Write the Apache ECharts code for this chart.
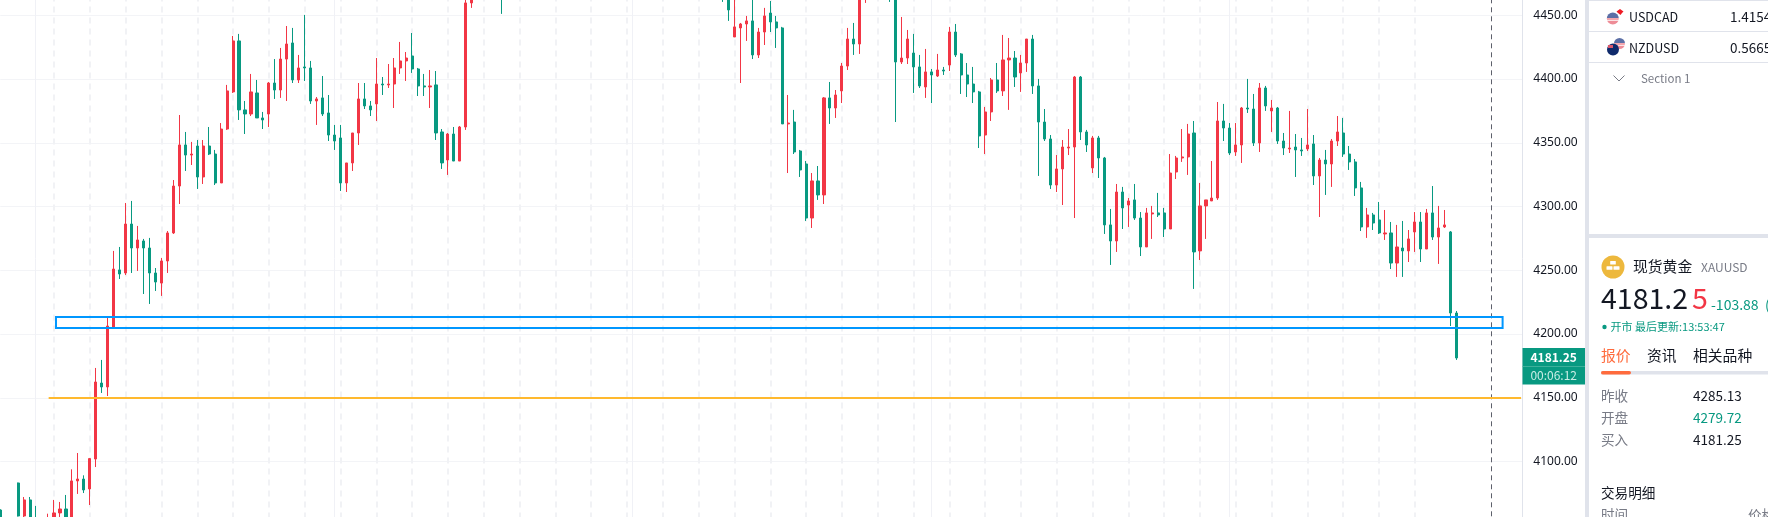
<!DOCTYPE html>
<html>

<head>
  <meta charset="utf-8" />
  <script src="https://cdn.jsdelivr.net/npm/echarts@6/dist/echarts.min.js"></script>
  <style>
    html, body { margin: 0; padding: 0; background: #fff; overflow: hidden; }
  </style>
</head>

<body>
  <div id="main" style="width: 1768px;height:517px;"></div>
  <script type="text/javascript">
    var n = null
    // XAUUSD candles, ten per row. null = candle is out of the visible window
    var opens = [
      4062, n, n, 4083.2, 4057.3, 4069.9, 4052, n, 4045, 4052,
      4059.7, 4062.8, 4052, 4084.8, 4086.3, 4078.5, 4102, 4161.6, 4158.5, 4205,
      4250.3, 4247.9, 4286.3, 4267.5, 4273, 4267.5, 4247.9, 4240, 4257.3, 4279.3,
      4316.1, 4348.3, 4340.4, 4347.5, 4323.2, 4347.5, 4341.2, 4318.5, 4360.8, 4389.9,
      4429.9, 4375.8, 4372.6, 4389.1, 4369.5, 4372.6, 4396.9, 4391.4, 4415.7, 4428.3,
      4399.3, 4409.5, 4408.7, 4382.8, 4385.2, 4373.4, 4356.1, 4353.8, 4318.5, 4334.2,
      4357.7, 4384.4, 4378.9, 4380.5, 4396.1, 4395.4, 4396.1, 4408.7, 4414.2, 4418.1,
      4407.9, 4394.6, 4393.8, 4395.4, 4358.5, 4336.5, 4356.9, 4335.7, 4362.4, 4459.7,
      n, n, n, n, 4490, n, n, n, n, n,
      n, n, n, n, n, n, n, n, n, n,
      n, n, n, n, n, n, n, n, n, n,
      n, n, n, n, n, n, n, n, n, n,
      n, 4480, 4470, 4433, 4440.1, 4443.2, 4445.6, 4418.9, 4436.9, 4451.8,
      4444.8, 4440.1, 4364.8, 4366.3, 4343.6, 4333.4, 4291, 4320.1, 4309.1, 4385.2,
      4377.3, 4390.7, 4410.2, 4431.4, 4427.5, 4466, n, n, n, 4480,
      4468, 4413.4, 4416.5, 4420.4, 4409.5, 4393.8, 4405.6, 4402.4, 4407.1, 4411,
      4436.9, 4419.7, 4403.2, 4396.1, 4389.9, 4356.1, 4374.2, 4399.3, 4390.7, 4415,
      4416.5, 4404.8, 4412.6, 4431.4, 4394.6, 4366.3, 4353, 4316.9, 4329.5, 4345.9,
      4346.7, 4401.6, 4358.5, 4330.3, 4353.8, 4338.1, 4285.6, 4273, 4311.4, 4301.2,
      4305.2, 4291, 4268.3, 4294.2, 4295, 4295, 4282.4, 4327.1, 4338.1, 4338.9,
      4357.7, 4265.2, 4300.5, 4304.4, 4306.7, 4367.1, 4361.6, 4342.8, 4348.3, 4377.3,
      4376.5, 4349.9, 4393, 4375, 4377.3, 4351.4, 4345.2, 4346.7, 4344.4, 4345.2,
      4349.1, 4324, 4336.5, 4333.4, 4351.4, 4357.7, 4341.2, 4335, 4314.6, 4284,
      4293.4, 4289.5, 4278.5, 4279.3, 4255.7, 4267.5, 4265.2, 4280.1, 4287.9, 4266.7,
      4295, 4276.1, 4284, 4280.1, 4216.5
    ]
    var closes = [
      4048, n, n, 4057.3, 4069.9, 4052, 4045, n, 4055, 4059.7,
      4062.8, 4052, 4084.8, 4086.3, 4077.7, 4102.3, 4162.4, 4158.5, 4206.3, 4251,
      4247.1, 4286.3, 4267.5, 4273.8, 4267.5, 4247.9, 4240.8, 4257.3, 4279.3, 4316.1,
      4348.3, 4340.4, 4341.2, 4323.2, 4347.5, 4341.2, 4318.5, 4360.8, 4390.7, 4429.9,
      4375.8, 4372.6, 4389.9, 4369.5, 4367.9, 4396.9, 4391.4, 4415.7, 4427.5, 4399.3,
      4408.7, 4408.7, 4382.8, 4384.4, 4372.6, 4356.1, 4351.4, 4318.5, 4334.2, 4357.7,
      4384.4, 4378.9, 4375.8, 4396.1, 4395.4, 4396.1, 4408.7, 4414.2, 4416.5, 4407.9,
      4394.6, 4393.8, 4394.6, 4357.7, 4334.2, 4356.9, 4335.7, 4362.4, 4459.7, 4464,
      n, n, n, n, 4470, n, n, n, n, n,
      n, n, n, n, n, n, n, n, n, n,
      n, n, n, n, n, n, n, n, n, n,
      n, n, n, n, n, n, n, n, n, n,
      n, 4470, 4454.2, 4440.9, 4443.2, 4445.6, 4418.9, 4436.9, 4449.5, 4444.8,
      4440.1, 4364.8, 4365.5, 4342.8, 4328.7, 4291, 4320.1, 4309.1, 4385.2, 4377.3,
      4387.5, 4410.2, 4431.4, 4427.5, 4466, 4472, n, n, n, 4470,
      4413.4, 4416.5, 4431.4, 4409.5, 4394.6, 4405.6, 4403.2, 4407.1, 4406.3, 4436.9,
      4418.9, 4403.2, 4396.1, 4389.9, 4355.4, 4374.2, 4399.3, 4390.7, 4415, 4416.5,
      4401.6, 4412.6, 4431.4, 4394.6, 4366.3, 4353, 4316.9, 4329.5, 4346.7, 4346.7,
      4401.6, 4358.5, 4348.3, 4353.8, 4338.1, 4285.6, 4273, 4311.4, 4298.9, 4304.4,
      4291, 4268.3, 4295, 4295, 4293.4, 4282.4, 4326.3, 4338.1, 4338.9, 4356.9,
      4264.4, 4300.5, 4305.2, 4306.7, 4367.1, 4361.6, 4342, 4348.3, 4377.3, 4376.5,
      4349.9, 4393, 4378.9, 4377.3, 4351.4, 4345.9, 4345.9, 4344.4, 4343.6, 4348.3,
      4324, 4336.5, 4333.4, 4351.4, 4358.5, 4341.2, 4335, 4314.6, 4284, 4293.4,
      4287.1, 4279.3, 4279.3, 4255.7, 4268.3, 4265.2, 4274.6, 4287.9, 4266.7, 4295,
      4276.1, 4283.2, 4285.6, 4216.5, 4181.25
    ]
    var lows = [
      4045, n, n, 4056.9, 4056.5, 4050, 4043, n, 4042, 4050,
      4055, 4048, 4049, 4074.6, 4075.3, 4065.9, 4095.7, 4153.8, 4151.4, 4204.7,
      4243.2, 4246.3, 4247.9, 4249.5, 4231.4, 4223.6, 4233.8, 4229.9, 4247.9, 4278.5,
      4302, 4327.9, 4332.6, 4313.8, 4317.7, 4340.4, 4316.9, 4318.5, 4360.1, 4389.1,
      4367.9, 4356.9, 4371, 4369.5, 4360.8, 4362.4, 4384.4, 4385.2, 4382.8, 4396.9,
      4396.9, 4398.5, 4380.5, 4364, 4371, 4351.4, 4344.4, 4312.2, 4311.4, 4327.9,
      4348.3, 4376.5, 4371, 4367.1, 4387.5, 4393, 4377.3, 4404, 4398.5, 4404.8,
      4386.7, 4386.7, 4377.3, 4352.2, 4329.5, 4324.8, 4335.7, 4335.7, 4360.1, 4455.8,
      n, n, n, n, 4451.1, n, n, n, n, n,
      n, n, n, n, n, n, n, n, n, n,
      n, n, n, n, n, n, n, n, n, n,
      n, n, n, n, n, n, n, n, n, n,
      n, 4460.5, 4445.6, 4433, 4396.9, 4429.9, 4415.7, 4416.5, 4426.7, 4436.9,
      4424.4, 4364.8, 4326.3, 4341.2, 4323.2, 4288.7, 4283.2, 4305.2, 4302, 4364.8,
      4369.5, 4381.2, 4407.1, 4418.9, 4419.7, 4459.7, n, n, n, 4460.5,
      4366.3, 4411.8, 4411.8, 4389.1, 4393, 4385.2, 4381.2, 4401.6, 4403.2, 4406.3,
      4417.3, 4388.3, 4385.9, 4381.2, 4345.9, 4341.2, 4367.1, 4389.1, 4386.7, 4375.8,
      4393.8, 4389.9, 4405.6, 4388.3, 4324, 4351.4, 4313.8, 4311.4, 4301.2, 4340.4,
      4291, 4352.2, 4342.8, 4326.3, 4322.4, 4278.5, 4254.2, 4264.4, 4282.4, 4284,
      4289.5, 4261.2, 4268.3, 4274.6, 4291.8, 4276.1, 4282.4, 4321.6, 4335, 4324.8,
      4235.4, 4258.1, 4274.6, 4304.4, 4305.2, 4351.4, 4340.4, 4339.7, 4334.2, 4373.4,
      4347.5, 4342.8, 4375, 4358.5, 4349.1, 4340.4, 4342, 4323.2, 4339.7, 4343.6,
      4316.9, 4291.8, 4309.1, 4315.4, 4347.5, 4338.9, 4328.7, 4308.3, 4280.8, 4275.4,
      4281.6, 4278.5, 4273.8, 4251, 4244.8, 4244.8, 4256.5, 4264.4, 4256.5, 4266.7,
      4273.8, 4255, 4283.2, 4206.3, 4179.7
    ]
    var highs = [
      4062.5, n, n, 4083.5, 4072.2, 4072.2, 4065.2, n, 4059.1, 4069.9,
      4068.3, 4073.8, 4093.9, 4106.7, 4089.2, 4102.6, 4173.4, 4179.7, 4212.6, 4265.2,
      4268.3, 4302.8, 4304.4, 4284.8, 4274.6, 4275.4, 4251.8, 4259.7, 4280.8, 4320.8,
      4371.8, 4358.5, 4350.7, 4352.2, 4352.2, 4362.4, 4344.4, 4365.5, 4395.4, 4433.8,
      4435.4, 4382.8, 4404, 4399.3, 4374.2, 4397.7, 4415.7, 4424.4, 4441.6, 4440.1,
      4418.9, 4450.3, 4414.2, 4385.9, 4402.4, 4387.5, 4364, 4364, 4334.2, 4357.7,
      4396.9, 4396.9, 4382.8, 4416.5, 4401.6, 4411.8, 4416.5, 4429.1, 4421.2, 4436.1,
      4408.7, 4404, 4407.1, 4406.3, 4360.8, 4357.7, 4362.4, 4363.2, 4464, 4468,
      n, n, n, n, 4495, n, n, n, n, n,
      n, n, n, n, n, n, n, n, n, n,
      n, n, n, n, n, n, n, n, n, n,
      n, n, n, n, n, n, n, n, n, n,
      n, 4485, 4478, 4475, 4444, 4449.5, 4464, 4440.1, 4455.8, 4461.2,
      4449.5, 4440.9, 4387.5, 4375.8, 4344.4, 4335.7, 4326.3, 4331.8, 4385.9, 4397.7,
      4391.4, 4412.6, 4440.1, 4444, 4470, 4476, n, n, n, 4485,
      4472, 4448.7, 4438.5, 4435.4, 4418.9, 4423.6, 4407.9, 4419.7, 4409.5, 4440.9,
      4443.2, 4420.4, 4412.6, 4409.5, 4390.7, 4378.1, 4400.8, 4412.6, 4434.6, 4432.2,
      4422, 4418.9, 4431.4, 4434.6, 4400.1, 4376.5, 4356.1, 4340.4, 4352.2, 4360.8,
      4402.4, 4402.4, 4360.1, 4355.4, 4355.4, 4338.9, 4298.1, 4317.7, 4315.4, 4306.7,
      4317.7, 4295.7, 4298.9, 4300.5, 4310.7, 4298.9, 4341.2, 4339.7, 4360.8, 4364.8,
      4367.1, 4318.5, 4305.2, 4335.7, 4382, 4380.5, 4365.5, 4365.5, 4378.1, 4400.1,
      4388.3, 4396.9, 4394.6, 4383.6, 4378.1, 4357.7, 4375, 4356.9, 4353.8, 4376.5,
      4356.1, 4338.1, 4344.4, 4353, 4371, 4369.5, 4347.5, 4337.3, 4319.3, 4298.9,
      4295, 4303.6, 4297.3, 4287.9, 4285.6, 4288.7, 4281.6, 4295.7, 4295.7, 4298.1,
      4316.1, 4300.5, 4297.3, 4280.8, 4218.1
    ]
    var lastPrice = 4181.25
    var supportLevel = 4150.3
    var zoneTop = 4213.4
    var zoneBottom = 4204.8
    // bar positions on the candle scale
    var slotCount = 256
    var zoneFrom = 9.33, zoneTo = 251.7
    var levelFrom = 8.1, levelTo = 254.8
    var nowBar = 249.8
    var solidGridBars = [5.93, 55.93, 105.9, 155.9, 205.9]
    var dashStart = 3, dashStep = 6, dashEnd = 243

    var categories = []
    for (var i = 0; i < slotCount; i++) categories.push(String(i))
    var candleData = opens.map(function (o, i) {
      if (o === null) return ['-', '-', '-', '-']
      return [o, closes[i], lows[i], highs[i]]
    })

    var UP = '#F23645', DOWN = '#089981', PANEL_LINE = '#E0E3EB'
    var FONT = '"Noto Sans CJK SC", "Noto Sans", sans-serif'

    function txt(x, y, s, size, color, extra) {
      var st = { x: x, y: y, text: s, fontSize: size, fontFamily: FONT, fill: color, verticalAlign: 'middle' }
      if (extra) for (var k in extra) st[k] = extra[k]
      return { type: 'text', z: 30, silent: true, style: st }
    }
    function box(x, y, w, h, color, r) {
      return { type: 'rect', z: 20, silent: true, shape: { x: x, y: y, width: w, height: h, r: r || 0 }, style: { fill: color } }
    }
    function dot(x, y, r, color) {
      return { type: 'circle', z: 25, silent: true, shape: { cx: x, cy: y, r: r }, style: { fill: color } }
    }
    function usFlag(x, y, r) {
      return {
        type: 'circle', z: 25, silent: true, shape: { cx: x, cy: y, r: r },
        style: {
          fill: new echarts.graphic.LinearGradient(0, 0, 0, 1, [
            { offset: 0, color: '#5C6FA6' }, { offset: 0.45, color: '#5C6FA6' },
            { offset: 0.45, color: '#F3A6AE' }, { offset: 0.6, color: '#F3A6AE' },
            { offset: 0.6, color: '#FBE3E5' }, { offset: 0.72, color: '#FBE3E5' },
            { offset: 0.72, color: '#EE8C97' }, { offset: 1, color: '#EE8C97' }
          ])
        }
      }
    }

    var panel = [
      // price scale tag
      box(1522.5, 348, 62.5, 36.5, DOWN),
      box(1522.5, 366, 62.5, 0.8, '#4FB8A4'),
      txt(1553.7, 357, lastPrice.toFixed(2), 12, '#fff', { align: 'center', fontWeight: 'bold' }),
      txt(1553.7, 375, '00:06:12', 12, '#C9EDE5', { align: 'center' }),
      // right column
      box(1585, 0, 183, 517, '#fff'),
      box(1585, 0, 4, 517, PANEL_LINE),
      box(1589, 0, 179, 1, PANEL_LINE),
      box(1589, 31, 179, 1, PANEL_LINE),
      box(1589, 62, 179, 1, PANEL_LINE),
      box(1589, 234, 179, 4, PANEL_LINE),
      dot(1620, 12.5, 5, '#fff'),
      { type: 'polygon', z: 26, silent: true, shape: { points: [[1620, 9], [1623.5, 11.5], [1622, 13], [1620.5, 15], [1618, 13], [1616.5, 11.5]] }, style: { fill: '#EE1C25' } },
      usFlag(1612.8, 18.5, 6),
      txt(1629, 17.5, 'USDCAD', 12.5, '#131722'),
      txt(1730, 16.5, '1.4154', 13.5, '#131722'),
      usFlag(1619.5, 43.5, 5.5),
      dot(1613, 49.5, 6, '#0F2A6B'),
      { type: 'rect', z: 26, silent: true, shape: { x: 1608, y: 45, width: 5, height: 3 }, style: { fill: '#D9576B' } },
      txt(1629, 48.5, 'NZDUSD', 12.5, '#131722'),
      txt(1730, 47.5, '0.5665', 13.5, '#131722'),
      { type: 'polyline', z: 25, silent: true, shape: { points: [[1613.5, 75.5], [1619, 81], [1624.5, 75.5]] }, style: { stroke: '#787B86', lineWidth: 1, fill: null } },
      txt(1641, 79, 'Section 1', 11.5, '#787B86'),
      // quote block
      dot(1613, 267, 11.5, '#EDB83D'),
      { type: 'rect', z: 26, silent: true, shape: { x: 1610.2, y: 261, width: 5.6, height: 3.6, r: 0.5 }, style: { fill: '#fff' } },
      { type: 'rect', z: 26, silent: true, shape: { x: 1606.5, y: 266.2, width: 6, height: 3.6, r: 0.5 }, style: { fill: '#fff' } },
      { type: 'rect', z: 26, silent: true, shape: { x: 1613.5, y: 266.2, width: 6, height: 3.6, r: 0.5 }, style: { fill: '#fff' } },
      txt(1633, 266.5, '现货黄金', 14.8, '#131722'),
      txt(1701, 267.5, 'XAUUSD', 12, '#787B86'),
      txt(1601, 298.5, '4181.2', 28.5, '#131722'),
      txt(1692, 298.5, '5', 28.5, UP),
      txt(1711, 304.5, '-103.88', 14, DOWN),
      txt(1765, 304.5, '(', 14, DOWN),
      dot(1604.5, 327, 2.2, DOWN),
      txt(1610.5, 327, '开市 最后更新:13:53:47', 11, DOWN),
      txt(1601, 355.5, '报价', 14.8, '#FF6B3D'),
      txt(1647, 355.5, '资讯', 14.8, '#131722'),
      txt(1693, 355.5, '相关品种', 14.8, '#131722'),
      box(1601, 371, 167, 3.6, PANEL_LINE),
      box(1601, 371, 30, 3.6, '#FF6B3D', 1.8),
      txt(1601, 396, '昨收', 13.6, '#787B86'),
      txt(1693, 396, '4285.13', 13.5, '#131722'),
      txt(1601, 418, '开盘', 13.6, '#787B86'),
      txt(1693, 418, '4279.72', 13.5, DOWN),
      txt(1601, 440, '买入', 13.6, '#787B86'),
      txt(1693, 440, '4181.25', 13.5, '#131722'),
      txt(1601, 493, '交易明细', 13.6, '#131722'),
      txt(1601, 515, '时间', 13.6, '#787B86'),
      txt(1748, 515, '价格', 13.6, '#787B86')
    ]

    var gridLines = solidGridBars.map(function (b) {
      return { xAxis: b, lineStyle: { color: '#F0F1F6', width: 1, type: 'solid' } }
    })
    var overlayLines = [
      { xAxis: nowBar, lineStyle: { color: '#5D606B', width: 1, type: [5, 4] } },
      [
        { coord: [levelFrom, supportLevel], lineStyle: { color: '#FFB92E', width: 2, type: 'solid' } },
        { coord: [levelTo, supportLevel] }
      ]
    ]

    var option = {
      animation: false,
      backgroundColor: '#fff',
      // 4500 and 4050 sit just outside the window
      grid: { left: 0.3, top: -48.45, width: 1522, height: 573.75, outerBoundsMode: 'none' },
      xAxis: [
        {
          type: 'category',
          data: categories,
          boundaryGap: false,
          axisLine: { show: false },
          axisTick: { show: false },
          axisLabel: { show: false },
          splitLine: {
            show: true,
            showMinLine: false,
            showMaxLine: false,
            interval: function (idx) {
              return idx >= dashStart && idx <= dashEnd && (idx - dashStart) % dashStep === 0
            },
            lineStyle: { color: '#F1F2F5', width: 2, type: [6, 5] }
          }
        },
        {
          type: 'value',
          min: 0,
          max: slotCount - 1,
          show: false,
          splitLine: { show: false }
        }
      ],
      yAxis: {
        type: 'value',
        position: 'right',
        min: 4050,
        max: 4500,
        interval: 50,
        axisLine: { show: true, onZero: false, lineStyle: { color: PANEL_LINE } },
        axisTick: { show: false },
        axisLabel: {
          margin: 11,
          color: '#131722',
          fontSize: 12,
          fontFamily: '"Noto Sans", sans-serif',
          formatter: function (v) { return v.toFixed(2) }
        },
        splitLine: { show: true, lineStyle: { color: '#F3F4F7', width: 1 } }
      },
      series: [
        {
          type: 'line',
          xAxisIndex: 1,
          data: [],
          silent: true,
          markLine: { z: 1, silent: true, symbol: 'none', label: { show: false }, data: gridLines }
        },
        {
          type: 'candlestick',
          data: candleData,
          barWidth: 2.6,
          z: 3,
          itemStyle: { color: UP, color0: DOWN, borderColor: UP, borderColor0: DOWN, borderWidth: 1 }
        },
        {
          type: 'line',
          xAxisIndex: 1,
          data: [],
          silent: true,
          markLine: { z: 5, silent: true, symbol: 'none', label: { show: false }, data: overlayLines },
          markArea: {
            z: 6,
            silent: true,
            label: { show: false },
            itemStyle: { color: 'rgba(0,0,0,0)', borderColor: '#0097FF', borderWidth: 2 },
            data: [[{ coord: [zoneFrom, zoneTop] }, { coord: [zoneTo, zoneBottom] }]]
          }
        }
      ],
      graphic: panel
    }

    var myChart = echarts.init(document.getElementById('main'));
    myChart.setOption(option);
  </script>
</body>

</html>
